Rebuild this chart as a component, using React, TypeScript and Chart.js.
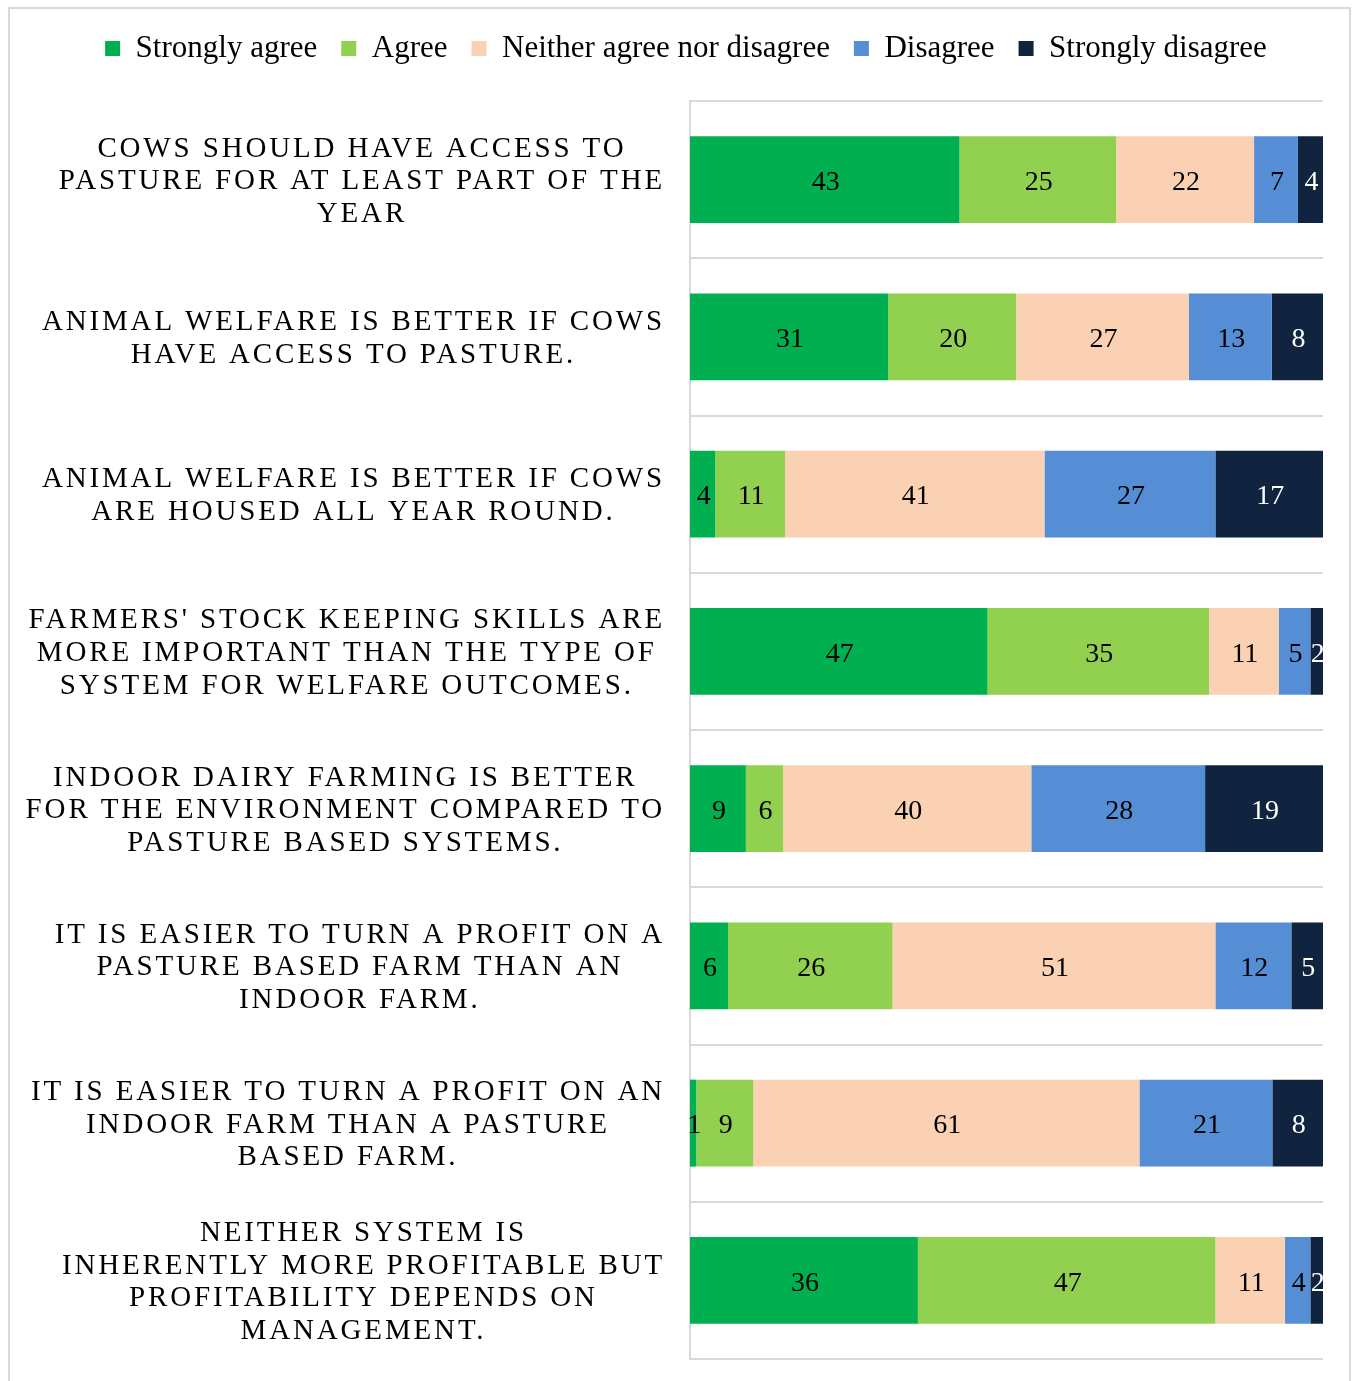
import React, { useEffect, useRef } from "react";
import { Chart, registerables } from "chart.js";

Chart.register(...registerables);

const categories: string[][] = [
  ["COWS SHOULD HAVE ACCESS TO", "PASTURE FOR AT LEAST PART OF THE", "YEAR"],
  ["ANIMAL WELFARE IS BETTER IF COWS", "HAVE ACCESS TO PASTURE."],
  ["ANIMAL WELFARE IS BETTER IF COWS", "ARE HOUSED ALL YEAR ROUND."],
  ["FARMERS' STOCK KEEPING SKILLS ARE", "MORE IMPORTANT THAN THE TYPE OF", "SYSTEM FOR WELFARE OUTCOMES."],
  ["INDOOR DAIRY FARMING IS BETTER", "FOR THE ENVIRONMENT COMPARED TO", "PASTURE BASED SYSTEMS."],
  ["IT IS EASIER TO TURN A PROFIT ON A", "PASTURE BASED FARM THAN AN", "INDOOR FARM."],
  ["IT IS EASIER TO TURN A PROFIT ON AN", "INDOOR FARM THAN A PASTURE", "BASED FARM."],
  ["NEITHER SYSTEM IS", "INHERENTLY MORE PROFITABLE BUT", "PROFITABILITY DEPENDS ON", "MANAGEMENT."],
];

const seriesNames = ["Strongly agree", "Agree", "Neither agree nor disagree", "Disagree", "Strongly disagree"];

const stronglyAgree = [43, 31, 4, 47, 9, 6, 1, 36];
const agree = [25, 20, 11, 35, 6, 26, 9, 47];
const neither = [22, 27, 41, 11, 40, 51, 61, 11];
const disagree = [7, 13, 27, 5, 28, 12, 21, 4];
const stronglyDisagree = [4, 8, 17, 2, 19, 5, 8, 2];

const seriesValues = [stronglyAgree, agree, neither, disagree, stronglyDisagree];
const seriesColors = ["#00B050", "#92D050", "#FAD2B3", "#558ED5", "#10243F"];
const labelColors = ["#000000", "#000000", "#000000", "#000000", "#FFFFFF"];

const SERIF = "'Liberation Serif', 'Times New Roman', serif";

const rowTotals = categories.map((_, i) => seriesValues.reduce((s, arr) => s + arr[i], 0));

const valueLabelPlugin = {
  id: "valueLabels",
  afterDatasetsDraw(chart: any) {
    const ctx = chart.ctx;
    ctx.save();
    ctx.font = `28px ${SERIF}`;
    ctx.textAlign = "center";
    ctx.textBaseline = "middle";
    chart.data.datasets.forEach((ds: any, di: number) => {
      const meta = chart.getDatasetMeta(di);
      meta.data.forEach((el: any, i: number) => {
        const p = el.getProps(["x", "y", "base"], true);
        ctx.fillStyle = labelColors[di];
        ctx.fillText(String(ds.raw[i]), (p.x + p.base) / 2 + 1, p.y + 3);
      });
    });
    ctx.restore();
  },
};

const categoryLabelPlugin = {
  id: "categoryLabels",
  afterDraw(chart: any) {
    const ctx = chart.ctx;
    const yScale = chart.scales.y;
    ctx.save();
    ctx.font = `29px ${SERIF}`;
    (ctx as any).letterSpacing = "2.85px";
    ctx.textAlign = "center";
    ctx.textBaseline = "middle";
    ctx.fillStyle = "#000000";
    const lineH = 32.7;
    const rightEdge = 655;
    categories.forEach((lines, i) => {
      const cy = yScale.getPixelForValue(i);
      const w = Math.max(...lines.map((l) => ctx.measureText(l).width));
      const cx = rightEdge - w / 2;
      lines.forEach((line, k) => {
        const y = cy + (k - (lines.length - 1) / 2) * lineH;
        ctx.fillText(line, cx, y + 2);
      });
    });
    ctx.restore();
  },
};

export default function App() {
  const canvasRef = useRef<HTMLCanvasElement | null>(null);

  useEffect(() => {
    if (!canvasRef.current) return;
    const chart = new Chart(canvasRef.current, {
      type: "bar",
      data: {
        labels: categories.map((c) => c.join(" ")),
        datasets: seriesValues.map((vals, di) => ({
          label: seriesNames[di],
          data: vals.map((v, i) => (v / rowTotals[i]) * 100),
          raw: vals,
          backgroundColor: seriesColors[di],
          borderWidth: 0,
          barPercentage: 0.553,
          categoryPercentage: 1,
        })) as any,
      },
      options: {
        indexAxis: "y",
        responsive: false,
        animation: false,
        devicePixelRatio: 1,
        layout: { padding: { left: 39, right: 26, top: 0, bottom: 22 } },
        plugins: {
          legend: {
            display: true,
            position: "top",
            labels: {
              font: { family: SERIF, size: 31 },
              color: "#000000",
              boxWidth: 15,
              boxHeight: 15,
              padding: 24,
            },
          },
          tooltip: { enabled: false },
        },
        scales: {
          x: {
            type: "linear",
            position: "top",
            stacked: true,
            min: 0,
            max: 100,
            display: true,
            grid: { display: false },
            border: { display: false },
            ticks: { display: false },
            afterFit: (s: any) => {
              s.height = 27;
            },
          },
          y: {
            type: "category",
            stacked: true,
            grid: { color: "#D9D9D9", lineWidth: 2, drawTicks: false, offset: true },
            border: { color: "#D9D9D9", width: 2 },
            ticks: { display: false },
            afterFit: (s: any) => {
              s.width = 641;
            },
          },
        },
      },
      plugins: [valueLabelPlugin, categoryLabelPlugin],
    });
    return () => chart.destroy();
  }, []);

  return (
    <div
      style={{
        position: "fixed",
        left: 8,
        top: 7,
        width: 1339,
        height: 1380,
        borderLeft: "2px solid #D9D9D9",
        borderTop: "2px solid #D9D9D9",
        borderRight: "2px solid #D9D9D9",
        background: "#FFFFFF",
      }}
    >
      <canvas ref={canvasRef} width={1339} height={1372} style={{ display: "block", width: 1339, height: 1372 }} />
    </div>
  );
}
